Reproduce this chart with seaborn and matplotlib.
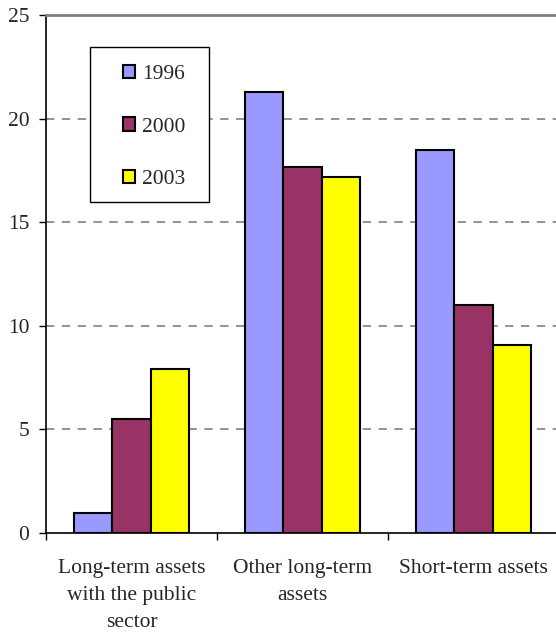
import matplotlib
matplotlib.use("Agg")
import matplotlib.pyplot as plt
from matplotlib.patches import Rectangle
import seaborn as sns
import pandas as pd

# Asset categories and values per year
categories = ["Long-term assets\nwith the public\nsector", "Other long-term\nassets", "Short-term assets"]
years = ["1996", "2000", "2003"]
values_1996 = [0.95, 21.3, 18.5]
values_2000 = [5.5, 17.65, 11.0]
values_2003 = [7.9, 17.2, 9.05]
y_ticks = [0, 5, 10, 15, 20, 25]
colors = ["#9999FF", "#993366", "#FFFF00"]

df = pd.DataFrame({
    "category": categories * 3,
    "year": [years[0]] * 3 + [years[1]] * 3 + [years[2]] * 3,
    "value": values_1996 + values_2000 + values_2003,
})

sns.set_theme(style="white")
plt.rcParams["font.family"] = ["Liberation Serif", "DejaVu Serif"]
FS = 15.5

W, H = 556, 633
AX_L, AX_B, AX_W, AX_H = 46, 533, 513, 518
fig = plt.figure(figsize=(W / 100, H / 100), dpi=100)
ax = fig.add_axes([AX_L / W, (H - AX_B) / H, AX_W / W, AX_H / H])


def px_to_axes(x, y):
    return (x - AX_L) / AX_W, (AX_B - y) / AX_H


sns.barplot(data=df, x="category", y="value", hue="year", palette=colors,
            order=categories, hue_order=years, width=0.667, gap=0,
            edgecolor="black", linewidth=1.5, saturation=1, ax=ax)

ax.set_ylim(0, 25)
ax.set_xlim(-0.5, 2.5)
ax.set_yticks(y_ticks)
ax.set_yticklabels([str(t) for t in y_ticks], fontsize=FS)
ax.set_xlabel("")
ax.set_ylabel("")

# Dashed gridlines behind bars
for t in y_ticks[1:-1]:
    ax.axhline(t, color="#808080", linestyle=(0, (5, 4.5)), linewidth=1.2, zorder=0)

ax.set_xticks([0, 1, 2])
ax.set_xticklabels(categories, fontsize=FS, linespacing=1.55)
ax.set_xticks([-0.5, 0.5, 1.5, 2.5], minor=True)
ax.tick_params(axis="x", which="major", length=0, pad=19)
ax.tick_params(axis="x", which="minor", length=5, width=1, color="black", direction="out", bottom=True)
ax.tick_params(axis="y", length=5, width=1, color="black", direction="out", left=True, pad=7)

for side in ["left", "bottom"]:
    ax.spines[side].set_color("black")
    ax.spines[side].set_linewidth(1.2)
ax.spines["top"].set_color("#808080")
ax.spines["top"].set_linewidth(2)
ax.spines["right"].set_color("#808080")

# Legend entries without their own frame, boxed by a plain white rectangle
leg = ax.legend(loc="center", bbox_to_anchor=px_to_axes(154, 127),
                borderaxespad=0, borderpad=0, frameon=False, fontsize=FS,
                handlelength=0.56, handleheight=0.56, handletextpad=0.33,
                labelspacing=1.56, title=None)
leg.set_zorder(6)
for h in leg.legend_handles:
    h.set_edgecolor("black")
    h.set_linewidth(1.5)

x0, y0 = px_to_axes(90, 202)
x1, y1 = px_to_axes(209, 47)
ax.add_patch(Rectangle((x0, y0), x1 - x0, y1 - y0, transform=ax.transAxes,
                       facecolor="white", edgecolor="black", linewidth=1.0, zorder=5))

fig.savefig("out.png", dpi=100)
